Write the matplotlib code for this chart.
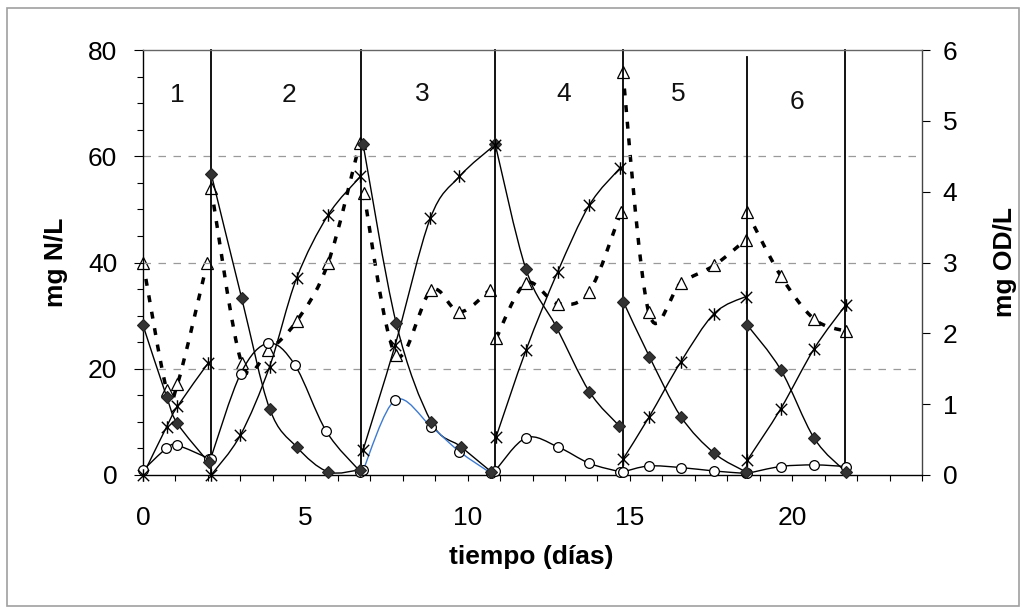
import numpy as np
import matplotlib
matplotlib.use("Agg")
import matplotlib.pyplot as plt
from matplotlib.path import Path
from matplotlib.patches import PathPatch, Rectangle

plt.rcParams['font.family'] = ['Liberation Sans', 'DejaVu Sans']

# ---------------- data ----------------
# phase boundaries (vertical lines), x in days
boundary_x = [2.1, 6.73, 10.85, 14.8, 18.6, 21.62]
boundary_top = [80, 80, 80, 80, 78.7, 80]
phase_labels = ["1", "2", "3", "4", "5", "6"]
phase_label_x = [1.05, 4.5, 8.6, 12.95, 16.5, 20.15]
phase_label_y = [71.5, 71.5, 71.8, 71.8, 71.8, 70.2]

# filled diamonds (mg N/L)
dia_x = [0, 0.73, 1.06, 2.02,
         2.1, 3.04, 3.9, 4.73, 5.7, 6.7,
         6.78, 7.8, 8.88, 9.8, 10.73,
         10.85, 11.8, 12.73, 13.75, 14.68,
         14.8, 15.6, 16.57, 17.6, 18.57,
         18.62, 19.65, 20.68, 21.65]
dia_y = [28.2, 14.7, 9.7, 2.4,
         56.7, 33.3, 12.5, 5.3, 0.6, 1.0,
         62.3, 28.6, 10.0, 5.3, 0.6,
         62.3, 38.7, 27.9, 15.7, 9.2,
         32.6, 22.3, 11.0, 4.1, 0.6,
         28.2, 19.8, 6.9, 0.6]
dia_phase = [1, 1, 1, 1, 2, 2, 2, 2, 2, 2, 3, 3, 3, 3, 3,
             4, 4, 4, 4, 4, 5, 5, 5, 5, 5, 6, 6, 6, 6]

# star markers (mg N/L)
star_x = [0, 0.73, 1.06, 2.0,
          2.1, 3.0, 3.9, 4.73, 5.7, 6.7,
          6.78, 7.77, 8.85, 9.75, 10.83,
          10.88, 11.8, 12.78, 13.75, 14.7,
          14.8, 15.6, 16.57, 17.6, 18.57,
          18.62, 19.65, 20.68, 21.65]
star_y = [0, 9.1, 12.9, 21.0,
          0, 7.5, 20.4, 37.0, 48.9, 56.2,
          4.7, 24.5, 48.3, 56.2, 62.1,
          7.2, 23.5, 38.3, 50.8, 57.8,
          3.1, 11.0, 21.3, 30.4, 33.6,
          2.8, 12.5, 23.8, 32.0]
star_phase = [1, 1, 1, 1, 2, 2, 2, 2, 2, 2, 3, 3, 3, 3, 3,
              4, 4, 4, 4, 4, 5, 5, 5, 5, 5, 6, 6, 6, 6]

# open circles (mg N/L)
circ_x = [0, 0.72, 1.05, 2.03,
          2.08, 3.01, 3.86, 4.68, 5.65, 6.7,
          6.78, 7.77, 8.88, 9.75, 10.73,
          10.85, 11.8, 12.78, 13.75, 14.7,
          14.8, 15.58, 16.57, 17.6, 18.57,
          18.62, 19.65, 20.68, 21.65]
circ_y = [0.9, 5.0, 5.6, 3.1,
          3.0, 19.1, 24.8, 20.7, 8.2, 0.6,
          0.9, 14.1, 9.1, 4.4, 0.3,
          0.8, 7.0, 5.3, 2.2, 0.6,
          0.6, 1.7, 1.4, 0.75, 0.3,
          0.3, 1.6, 1.9, 1.6]
circ_phase = [1, 1, 1, 1, 2, 2, 2, 2, 2, 2, 3, 3, 3, 3, 3,
              4, 4, 4, 4, 4, 5, 5, 5, 5, 5, 6, 6, 6, 6]
circ_blue_phase = 3

# open triangles (mg OD/L, right axis)
tri_x = [0, 0.73, 1.06, 1.98,
         2.1, 3.04, 3.86, 4.73, 5.7, 6.68,
         6.8, 7.78, 8.88, 9.75, 10.68,
         10.88, 11.8, 12.78, 13.75, 14.73,
         14.78, 15.58, 16.57, 17.6, 18.57,
         18.6, 19.65, 20.68, 21.65]
tri_y = [3.0, 1.2, 1.28, 3.0,
         4.05, 1.58, 1.76, 2.17, 2.99, 4.69,
         3.98, 1.70, 2.61, 2.30, 2.61,
         1.93, 2.71, 2.42, 2.59, 3.72,
         5.69, 2.30, 2.71, 2.96, 3.32,
         3.72, 2.81, 2.20, 2.03]
tri_phase = [1, 1, 1, 1, 2, 2, 2, 2, 2, 2, 3, 3, 3, 3, 3,
             4, 4, 4, 4, 4, 5, 5, 5, 5, 5, 6, 6, 6, 6]

x_ticks = [0, 5, 10, 15, 20]
yl_ticks = [0, 20, 40, 60, 80]
yr_ticks = [0, 1, 2, 3, 4, 5, 6]


# ---------------- helpers ----------------
def smooth_path(xs, ys):
    pts = np.column_stack([xs, ys]).astype(float)
    n = len(pts)
    verts = [pts[0]]
    codes = [Path.MOVETO]
    for i in range(n - 1):
        p0 = pts[i - 1] if i > 0 else pts[i]
        p1 = pts[i]
        p2 = pts[i + 1]
        p3 = pts[i + 2] if i + 2 < n else pts[i + 1]
        c1 = p1 + (p2 - p0) / 6.0
        c2 = p2 - (p3 - p1) / 6.0
        verts += [c1, c2, p2]
        codes += [Path.CURVE4] * 3
    return Path(verts, codes)


def draw_phases(ax, xs, ys, phases, color_for, **kw):
    xs = np.asarray(xs); ys = np.asarray(ys); phases = np.asarray(phases)
    for p in np.unique(phases):
        m = phases == p
        path = smooth_path(xs[m], ys[m])
        ax.add_patch(PathPatch(path, fill=False, edgecolor=color_for(p), **kw))


star_marker = Path([(-1, -1), (1, 1), (-1, 1), (1, -1), (0, -1.1), (0, 1.1)],
                   [Path.MOVETO, Path.LINETO, Path.MOVETO, Path.LINETO,
                    Path.MOVETO, Path.LINETO])

# ---------------- figure ----------------
W, H = 1026, 607
fig = plt.figure(figsize=(W / 100, H / 100), dpi=100)
fig.patch.set_facecolor('white')

ax_l, ax_r, ax_t, ax_b = 143, 922, 50, 475
ax = fig.add_axes([ax_l / W, 1 - ax_b / H, (ax_r - ax_l) / W, (ax_b - ax_t) / H])
ax2 = ax.twinx()

ax.set_xlim(0, 24)
ax.set_ylim(0, 80)
ax2.set_ylim(0, 6)

# grid
for g in [20, 40, 60]:
    ax.axhline(g, color='#9a9a9a', lw=0.9, ls=(0, (6, 6)), zorder=0.5)

# vertical phase lines
for bx, bt in zip(boundary_x, boundary_top):
    ax.plot([bx, bx], [0, bt], color='black', lw=1.3, zorder=2, clip_on=False)

black = lambda p: 'black'
blue = lambda p: '#3d7ad1' if p == circ_blue_phase else 'black'

# curves
draw_phases(ax, dia_x, dia_y, dia_phase, black, lw=1.0, zorder=3)
draw_phases(ax, star_x, star_y, star_phase, black, lw=1.0, zorder=3)
draw_phases(ax, circ_x, circ_y, circ_phase, blue, lw=1.0, zorder=3)
draw_phases(ax2, tri_x, tri_y, tri_phase, black, lw=2.5,
            linestyle=(0, (2.0, 2.8)), capstyle='butt', zorder=3)

# markers
ax.plot(circ_x, circ_y, ls='none', marker='o', ms=7, mfc='white', mec='black',
        mew=0.9, zorder=4, clip_on=False)
ax.plot(dia_x, dia_y, ls='none', marker='D', ms=6, mfc='#333333', mec='#222222',
        mew=0.8, zorder=5, clip_on=False)
ax.plot(star_x, star_y, ls='none', marker=star_marker, ms=9, mfc='none', mec='black',
        mew=1.0, zorder=5, clip_on=False)
ax2.plot(tri_x, tri_y, ls='none', marker='^', ms=8, mfc='white', mec='black',
         mew=0.9, zorder=6, clip_on=False)

# phase numbers
for t, px, py in zip(phase_labels, phase_label_x, phase_label_y):
    ax.text(px, py, t, ha='center', va='center', fontsize=19, color='#111111')

# spines
for s in ['left', 'bottom']:
    ax.spines[s].set_color('black')
    ax.spines[s].set_linewidth(1.0)
ax.spines['top'].set_color('#666666')
ax.spines['top'].set_linewidth(1.0)
ax2.spines['right'].set_color('#444444')
ax2.spines['right'].set_linewidth(1.0)
for s in ['left', 'bottom', 'top']:
    ax2.spines[s].set_visible(False)
ax.spines['right'].set_visible(False)

# ticks
ax.set_xticks(x_ticks)
ax.set_xticks(range(0, 25), minor=True)
ax.tick_params(axis='x', which='both', direction='out', length=4.3, width=0.8,
               pad=18, labelsize=19, colors='black')
ax.set_yticks(yl_ticks)
ax.set_yticks(range(0, 81, 5), minor=True)
ax.tick_params(axis='y', which='major', direction='out', length=6.5, width=0.8,
               pad=12, labelsize=19)
ax.tick_params(axis='y', which='minor', direction='out', length=4.5, width=0.8)
ax2.set_yticks(yr_ticks)
ax2.tick_params(axis='y', which='major', direction='out', length=5.5, width=0.8,
                pad=9.5, labelsize=19)
ax.set_zorder(ax2.get_zorder() + 1)
ax.patch.set_visible(False)

# axis labels
fig.text(56 / W, 1 - 262 / H, 'mg N/L', rotation=90, ha='center', va='center',
         fontsize=19, fontweight='bold')
fig.text(1005 / W, 1 - 262 / H, 'mg OD/L', rotation=90, ha='center', va='center',
         fontsize=19, fontweight='bold')
fig.text(531 / W, 1 - 557 / H, 'tiempo (días)', ha='center', va='center',
         fontsize=19, fontweight='bold')

# outer frame
fig.add_artist(Rectangle((7 / W, 1 - 606 / H), (1019 - 7) / W, (606 - 8) / H,
                         transform=fig.transFigure, fill=False,
                         edgecolor='#a0a0a0', lw=1.2))

fig.savefig('out.png', dpi=100)
